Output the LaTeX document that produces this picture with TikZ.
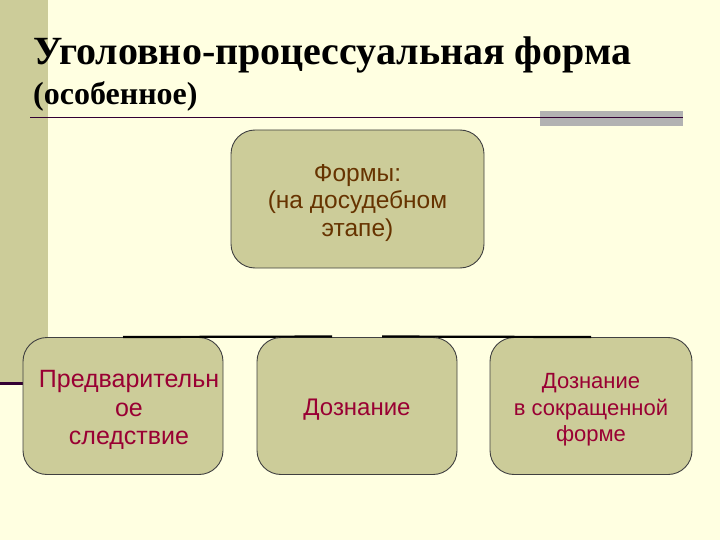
\documentclass[tikz,border=0pt]{standalone}
\usepackage{fontspec}
\setmainfont{Liberation Serif}
\newfontfamily\arialf{Liberation Sans}
\definecolor{bgc}{RGB}{255,255,225}
\definecolor{olive}{RGB}{204,204,153}
\definecolor{brownt}{RGB}{102,51,0}
\definecolor{redt}{RGB}{153,0,51}
\definecolor{purp}{RGB}{51,0,51}
\definecolor{greyb}{RGB}{178,178,178}
\tikzset{
  box/.style={draw=black!75, line width=0.9pt, fill=olive, rounded corners=24pt, inner sep=0pt, minimum height=137pt},
  txt/.style={align=center, inner sep=0pt},
  toptext/.style={txt, text=brownt, font=\arialf\fontsize{24.5}{27.5}\selectfont},
  bottext/.style={txt, text=redt, font=\arialf\fontsize{25}{28.5}\selectfont},
  conn/.style={line width=2.2pt, black}
}
\begin{document}
\begin{tikzpicture}[x=1pt,y=-1pt]
\useasboundingbox (0,0) rectangle (720,540);
\fill[bgc] (0,0) rectangle (720,540);
\fill[olive] (0,0) rectangle (48,382);
\draw[purp, line width=2.5pt] (0,383.5) -- (30,383.5);
\fill[greyb] (540,111) rectangle (683,126);
\draw[purp, line width=1.5pt] (30,117.5) -- (683,117.5);
\node[anchor=base west, inner sep=0pt, font=\bfseries\fontsize{40}{44}\selectfont] (title) at (33,65) {Уголовно-процессуальная форма};
\node[anchor=base west, inner sep=0pt, font=\bfseries\fontsize{32}{34}\selectfont] (sub) at (33,105) {(особенное)};
\node[box, minimum width=253pt, minimum height=138pt] (top) at (357.5,199) {};
\node[toptext] (topt) at (357.5,203) {Формы:\\(на досудебном\\этапе)};
\node[box, minimum width=200pt] (b1) at (123,406) {};
\node[bottext] (b1t) at (129,410) {Предварительн\\ое\\следствие};
\node[box, minimum width=200pt] (b2) at (357,406) {};
\node[bottext, font=\arialf\fontsize{24}{28}\selectfont] (b2t) at (357,410) {Дознание};
\node[box, minimum width=202pt] (b3) at (591,406) {};
\node[bottext, font=\arialf\fontsize{22}{26.5}\selectfont] (b3t) at (591,410) {Дознание\\в сокращенной\\форме};
\coordinate (g1) at (332,336.5);
\coordinate (g2) at (382,336.5);
\draw[conn] (b1.north) -- (g1);
\draw[conn] (g2) -- (b3.north);
\end{tikzpicture}
\end{document}
